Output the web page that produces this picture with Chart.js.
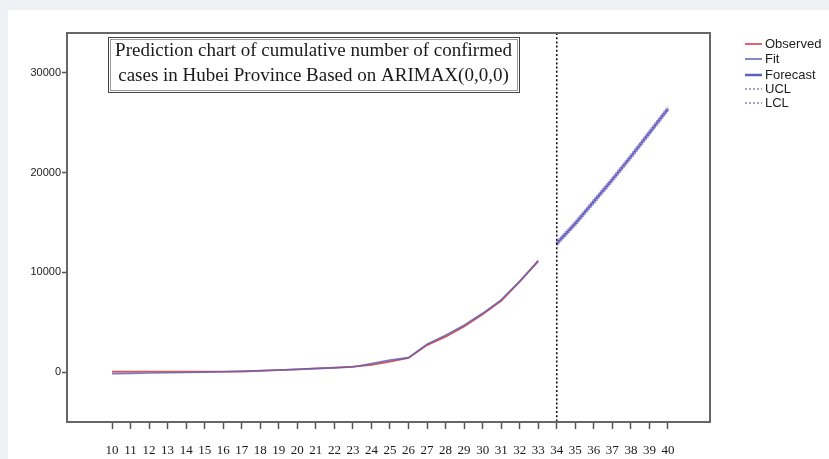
<!DOCTYPE html>
<html>
<head>
<meta charset="utf-8">
<script src="https://cdn.jsdelivr.net/npm/chart.js@4"></script>
<style>
html,body{margin:0;padding:0;background:#eef0f3;}
#wrap{position:absolute;left:0;top:0;width:829px;height:459px;}
</style>
</head>
<body>
<div id="wrap"><canvas id="c" width="829" height="459"></canvas></div>
<script>
// ---- data ----
const obsDays = [10,11,12,13,14,15,16,17,18,19,20,21,22,23,24,25,26,27,28,29,30,31,32,33];
const observed = [41,41,41,41,41,41,41,62,121,198,270,375,444,549,729,1052,1423,2714,3554,4586,5806,7153,9074,11177];
const fitted = [-150,-120,-90,-60,-30,0,40,90,150,210,280,350,430,520,850,1200,1450,2800,3700,4700,5900,7250,9100,11100];
const fcDays = [34,35,36,37,38,39,40];
const forecast = [12900,14900,17100,19300,21600,24000,26400];
const ucl = [13100,15100,17300,19500,21800,24200,26600];
const lcl = [12700,14700,16900,19100,21400,23800,26200];
const xTicks = [10,11,12,13,14,15,16,17,18,19,20,21,22,23,24,25,26,27,28,29,30,31,32,33,34,35,36,37,38,39,40];
const yTicks = [0,10000,20000,30000];
const titleLines = ['Prediction chart of cumulative number of confirmed','cases in Hubei Province Based on ARIMAX(0,0,0)'];
const forecastStart = 34;

const pts = (xs, ys) => xs.map((x,i)=>({x:x,y:ys[i]}));

const bgPlugin = {
  id:'bg',
  beforeDraw(chart){
    const c = chart.ctx;
    c.save();
    c.fillStyle='#eef0f3'; c.fillRect(0,0,829,459);
    c.fillStyle='#ffffff'; c.fillRect(8,10,821,449);
    c.restore();
  }
};

const decoPlugin = {
  id:'deco',
  afterDatasetsDraw(chart){
    const c = chart.ctx, a = chart.chartArea, xs = chart.scales.x;
    c.save();
    // dashed forecast divider
    const px = xs.getPixelForValue(forecastStart);
    c.strokeStyle='#111'; c.lineWidth=1.6; c.setLineDash([2,2.2]);
    c.beginPath(); c.moveTo(px,a.top); c.lineTo(px,a.bottom); c.stroke();
    c.setLineDash([]);
    // frame
    c.strokeStyle='#666'; c.lineWidth=2;
    c.strokeRect(a.left,a.top,a.right-a.left,a.bottom-a.top);
    // title box
    c.font='19px "Liberation Serif", "Times New Roman", serif';
    c.fillStyle='#1a1a1a'; c.textAlign='center'; c.textBaseline='middle';
    const bx=108, by=37, bw=411, bh=55;
    c.strokeStyle='#444'; c.lineWidth=1;
    c.strokeRect(bx+0.5,by+0.5,bw,bh);
    c.strokeStyle='#999';
    c.strokeRect(bx+2.5,by+2.5,bw-4,bh-4);
    c.fillText(titleLines[0], bx+bw/2, 51);
    c.fillText(titleLines[1], bx+bw/2, 76);
    // legend
    const ds = chart.data.datasets;
    c.font='13px "Liberation Sans", Arial, sans-serif';
    c.textAlign='left';
    const ly=[44,59,75,89,103];
    ds.forEach((d,i)=>{
      c.strokeStyle=d.borderColor; c.lineWidth= i===2?2.5:1.8;
      c.setLineDash(d.borderDash && d.borderDash.length ? [2,2] : []);
      c.beginPath(); c.moveTo(745,ly[i]); c.lineTo(762,ly[i]); c.stroke();
      c.setLineDash([]);
      c.fillStyle='#222';
      c.fillText(d.label, 765, ly[i]);
    });
    c.restore();
  }
};

new Chart(document.getElementById('c'), {
  type:'line',
  data:{
    datasets:[
      {label:'Observed', order:2, data:pts(obsDays,observed), borderColor:'#e0505a', borderWidth:1.8, pointRadius:0, tension:0},
      {label:'Fit', order:1, data:pts(obsDays,fitted), borderColor:'rgba(95,100,175,0.85)', borderWidth:1.6, pointRadius:0, tension:0},
      {label:'Forecast', order:3, data:pts(fcDays,forecast), borderColor:'#5a62b8', borderWidth:3, pointRadius:0, tension:0},
      {label:'UCL', order:0, data:pts(fcDays,ucl), borderColor:'#a993d6', borderWidth:2, borderDash:[1.5,1.5], pointRadius:0, tension:0},
      {label:'LCL', order:0, data:pts(fcDays,lcl), borderColor:'#a993d6', borderWidth:2, borderDash:[1.5,1.5], pointRadius:0, tension:0}
    ]
  },
  options:{
    responsive:false, animation:false,
    layout:{padding:{left:0, top:33, right:119, bottom:0}},
    plugins:{legend:{display:false}, tooltip:{enabled:false}},
    scales:{
      x:{
        type:'linear', min:7.57, max:42.27,
        afterBuildTicks(s){ s.ticks = xTicks.map(v=>({value:v})); },
        afterFit(s){ s.height = 37; },
        grid:{drawOnChartArea:false, drawTicks:true, tickLength:7, color:'#555', tickWidth:1.5},
        border:{display:true, color:'#666', width:2},
        ticks:{padding:14, color:'#1a1a1a', maxRotation:0, autoSkip:false,
          font:{family:'"Liberation Serif", "Times New Roman", serif', size:13},
          callback:(v)=>String(v)}
      },
      y:{
        type:'linear', min:-5000, max:34000,
        afterBuildTicks(s){ s.ticks = yTicks.map(v=>({value:v})); },
        afterFit(s){ s.width = 67; },
        grid:{drawOnChartArea:false, drawTicks:true, tickLength:5, color:'#555', tickWidth:1.5},
        border:{display:true, color:'#666', width:2},
        ticks:{padding:1, color:'#222',
          font:{family:'"Liberation Sans", Arial, sans-serif', size:11},
          callback:(v)=>String(v)}
      }
    }
  },
  plugins:[bgPlugin, decoPlugin]
});
</script>
</body>
</html>
